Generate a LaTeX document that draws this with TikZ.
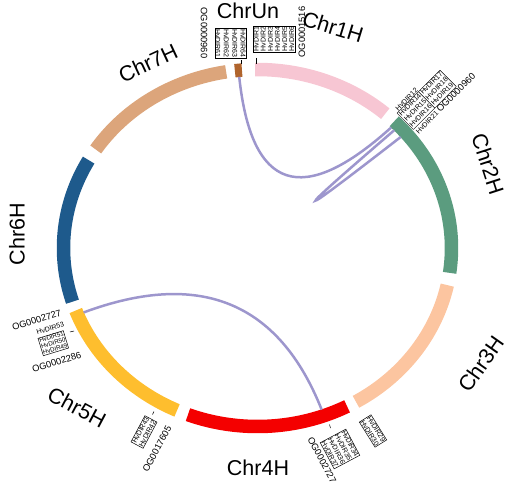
\documentclass[tikz,border=0pt]{standalone}
\usepackage{fontspec}
\setmainfont{Liberation Sans}
\usetikzlibrary{calc}
\definecolor{cone}{HTML}{F7C6D3}
\definecolor{ctwo}{HTML}{5B9C7F}
\definecolor{cthree}{HTML}{FCC5A0}
\definecolor{cfour}{HTML}{F40000}
\definecolor{cfive}{HTML}{FEBE2E}
\definecolor{csix}{HTML}{1E5A8C}
\definecolor{cseven}{HTML}{DCA57B}
\definecolor{cun}{HTML}{B0642C}
\definecolor{linkc}{HTML}{9D96CD}
\newcommand\ccx{257.5}
\newcommand\ccy{248}
\newcommand\crx{194}
\newcommand\cry{178.5}
\newcommand\ogf{\fontsize{9.3}{10}\selectfont}
\begin{document}
\begin{tikzpicture}[x=1pt,y=-1pt,
  band/.style={line width=13.5pt},
  lnk/.style={draw=linkc, line width=2.5pt},
  chrlab/.style={font=\fontsize{21.5}{23}\selectfont, inner sep=0pt},
  gl/.style={font=\fontsize{7}{7.6}\selectfont, inner sep=0.6pt, align=left},
  gbox/.style={gl, draw, line width=0.5pt},
  ogl/.style={font=\ogf, inner sep=0pt},
  tickl/.style={line width=0.5pt}]
\useasboundingbox (0,0) rectangle (512,495);
% ideogram bands
\draw[band, cone]   plot[domain=90.7:48.8, samples=50] ({\ccx+\crx*cos(\x)},{\ccy-\cry*sin(\x)});
\draw[band, ctwo]   plot[domain=45.2:-8, samples=60] ({\ccx+\crx*cos(\x)},{\ccy-\cry*sin(\x)});
\draw[band, cthree] plot[domain=-12:-59.5, samples=50] ({\ccx+\crx*cos(\x)},{\ccy-\cry*sin(\x)});
\draw[band, cfour]  plot[domain=-62.5:-111, samples=50] ({\ccx+\crx*cos(\x)},{\ccy-\cry*sin(\x)});
\draw[band, cfive]  plot[domain=-114.5:-159.5, samples=50] ({\ccx+\crx*cos(\x)},{\ccy-\cry*sin(\x)});
\draw[band, csix]   plot[domain=197.5:150.5, samples=50] ({\ccx+\crx*cos(\x)},{\ccy-\cry*sin(\x)});
\draw[band, cseven] plot[domain=146.5:99.3, samples=50] ({\ccx+\crx*cos(\x)},{\ccy-\cry*sin(\x)});
\draw[band, cun]    plot[domain=96.7:94.6, samples=5] ({\ccx+\crx*cos(\x)},{\ccy-\cry*sin(\x)});
% links
\coordinate (ctr) at (\ccx,\ccy);
\coordinate (a1) at ({\ccx+187.5*cos(95.6)},{\ccy-172*sin(95.6)});
\coordinate (b1) at ({\ccx+187.5*cos(44.5)},{\ccy-172*sin(44.5)});
\coordinate (a2) at ({\ccx+187.5*cos(43.2)},{\ccy-172*sin(43.2)});
\coordinate (b2) at ({\ccx+187.5*cos(40.2)},{\ccy-172*sin(40.2)});
\coordinate (a3) at ({\ccx+187.5*cos(-158)},{\ccy-172*sin(-158)});
\coordinate (b3) at ({\ccx+187.5*cos(-70)},{\ccy-172*sin(-70)});
\draw[lnk] (a1) .. controls ($(a1)!0.667!(ctr)$) and ($(b1)!0.667!(ctr)$) .. (b1);
\draw[lnk] (a2) .. controls ($(a2)!0.78!(ctr)$) and ($(b2)!0.78!(ctr)$) .. (b2);
\draw[lnk] (a3) .. controls ($(a3)!0.667!(ctr)$) and ($(b3)!0.667!(ctr)$) .. (b3);
% chromosome names
\node[chrlab] (lun) at (248,10.5) {ChrUn};
\node[chrlab, rotate=-17] (l1) at (333,27) {Chr1H};
\node[chrlab, rotate=-72] (l2) at (488,164) {Chr2H};
\node[chrlab, rotate=55] (l3) at (481,364) {Chr3H};
\node[chrlab] (l4) at (258,468) {Chr4H};
\node[chrlab, rotate=-28] (l5) at (77,407) {Chr5H};
\node[chrlab, rotate=90] (l6) at (17,234) {Chr6H};
\node[chrlab, rotate=25] (l7) at (148,63) {Chr7H};
% ChrUn genes
\node[gbox, rotate=-90, font=\fontsize{7}{8.4}\selectfont] (unbox) at (230.5,43.5) {HvDIR64\\HvDIR63\\HvDIR62\\HvDIR61};
\node[ogl, rotate=-90] (unog) at (204,33) {OG0000960};
\coordinate (unt1) at (241,60.5);
\coordinate (unt2) at (241,64);
\draw[tickl] (unt1) -- (unt2);
% Chr1H genes
\node[gbox, rotate=90, font=\fontsize{7}{7.1}\selectfont] (c1box) at (274,39) {HvDIR1\\HvDIR2\\HvDIR3\\HvDIR4\\HvDIR5\\HvDIR6};
\node[ogl, rotate=90] (c1og) at (302,32) {OG0001516};
\coordinate (c1t1) at (256.5,58);
\coordinate (c1t2) at (256.5,64);
\draw[tickl] (c1t1) -- (c1t2);
% Chr2H genes
\node[gl, rotate=45, anchor=west] (c2a) at (396,110) {HvDIR12};
\node[gl, rotate=45, anchor=west, inner sep=0pt] (c2box) at (405,121.5) {\setlength\tabcolsep{1pt}\begin{tabular}{|l|l|}\hline HvDIR14 & HvDIR17\\ HvDIR15 & HvDIR18\\ HvDIR16 & HvDIR19\\\hline\end{tabular}};
\node[gl, rotate=45, anchor=west] (c2b) at (416,132.5) {HvDIR21 {\ogf OG0000960}};
% Chr5H genes (top end)
\node[ogl, rotate=17] (c5og1) at (36.7,320.2) {OG0002727};
\node[gl, rotate=17] (c5g53) at (50.3,328.5) {HvDIR53};
\node[gbox, rotate=17, font=\fontsize{6.2}{6.3}\selectfont] (c5box) at (53.3,343.2) {HvDIR51\\HvDIR50\\HvDIR49};
\node[ogl, rotate=17] (c5og2) at (56.7,362.2) {OG0002286};
\coordinate (c5t1) at (70,332);
\coordinate (c5t2) at (74,331);
\draw[tickl] (c5t1) -- (c5t2);
% Chr5H genes (bottom end)
\node[gbox, rotate=62] (c5boxb) at (144,432) {HvDIR43\\HvDIR42};
\node[ogl, rotate=62] (c5og3) at (157,449) {OG0017605};
\coordinate (c5t3) at (152.5,414.5);
\coordinate (c5t4) at (154,411.5);
\draw[tickl] (c5t3) -- (c5t4);
% Chr4H genes
\node[gbox, rotate=-62] (c4box) at (340,449) {HvDIR34\\HvDIR35\\HvDIR36\\HvDIR37};
\node[ogl, rotate=-62] (c4og) at (322,460) {OG0002727};
\coordinate (c4t1) at (330.5,428);
\coordinate (c4t2) at (329.5,424.5);
\draw[tickl] (c4t1) -- (c4t2);
% Chr3H genes
\node[gbox, rotate=-58] (c3box) at (373,431) {HvDIR29\\HvDIR30};
\end{tikzpicture}
\end{document}
